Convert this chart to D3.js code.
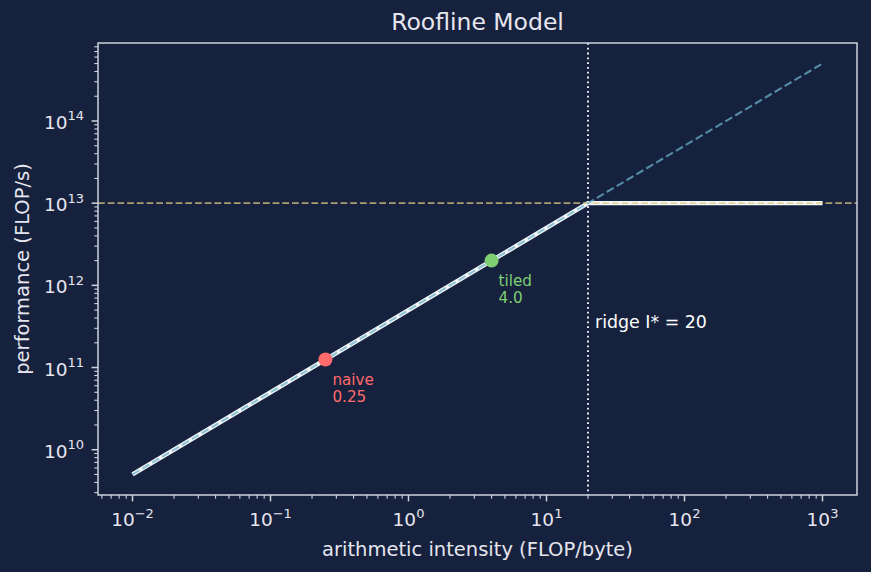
<!DOCTYPE html>
<html><head><meta charset="utf-8">
<script src="https://cdn.jsdelivr.net/npm/d3@7"></script>
<style>body{margin:0;background:#16213e;} svg{display:block;}</style>
</head><body><svg id="c" width="871" height="572"></svg>
<script>
// data
const intensityRange = [0.01, 1000];
const bandwidth = 5e11;          // bytes/s
const peak = 1e13;               // FLOP/s
const ridge = 20;
const kernels = ["naive", "tiled"];
const kernelIntensity = [0.25, 4.0];
const kernelLabels = ["0.25", "4.0"];
const kernelColors = ["#ff6b6b", "#7dcf72"];
const xTickExps = [-2, -1, 0, 1, 2, 3];
const yTickExps = [10, 11, 12, 13, 14];

const W = 871, H = 572;
const m = {l: 98, r: 857, t: 43, b: 495};
const svg = d3.select("#c");
const font = "DejaVu Sans, sans-serif";
const fg = "#e6e6ee", spine = "#cdd2dc";

svg.append("rect").attr("width", W).attr("height", H).attr("fill", "#16213e");

const x = d3.scaleLog().domain([Math.pow(10, -2.25), Math.pow(10, 3.25)]).range([m.l, m.r]);
const yLo = Math.log10(bandwidth * intensityRange[0]), yHi = Math.log10(bandwidth * intensityRange[1]);
const ypad = (yHi - yLo) * 0.05;
const y = d3.scaleLog().domain([Math.pow(10, yLo - ypad), Math.pow(10, yHi + ypad)]).range([m.b, m.t]);

const g = svg.append("g");
svg.append("clipPath").attr("id", "clip").append("rect")
  .attr("x", m.l).attr("y", m.t).attr("width", m.r - m.l).attr("height", m.b - m.t);
const plot = g.append("g").attr("clip-path", "url(#clip)");

// ridge vertical
plot.append("line").attr("x1", x(ridge)).attr("x2", x(ridge)).attr("y1", m.t).attr("y2", m.b)
  .attr("stroke", "#ffffff").attr("stroke-width", 1.8).attr("stroke-dasharray", "1.8,3");

// roofline
const pts = [intensityRange[0], ridge, intensityRange[1]];
const line = d3.line().x(d => x(d)).y(d => y(Math.min(bandwidth * d, peak)));
plot.append("path").datum(pts).attr("d", line).attr("fill", "none")
  .attr("stroke", "#f4f6f8").attr("stroke-width", 4.4).attr("stroke-linejoin", "round");

// compute ceiling
plot.append("line").attr("x1", m.l).attr("x2", m.r).attr("y1", y(peak)).attr("y2", y(peak))
  .attr("stroke", "#d8cc80").attr("stroke-opacity", 0.75).attr("stroke-width", 1.6)
  .attr("stroke-dasharray", "6.8,2.9");

// memory roof dashed
const memLine = d3.line().x(d => x(d)).y(d => y(bandwidth * d));
plot.append("path").datum(intensityRange).attr("d", memLine).attr("fill", "none")
  .attr("stroke", "#68b0c8").attr("stroke-opacity", 0.75).attr("stroke-width", 2.1)
  .attr("stroke-dasharray", "8,3.5");

// kernels
kernels.forEach((k, i) => {
  const I = kernelIntensity[i];
  const px = x(I), py = y(Math.min(bandwidth * I, peak));
  plot.append("circle").attr("cx", px).attr("cy", py).attr("r", 7).attr("fill", kernelColors[i]);
  const t = g.append("text").attr("x", px + 7).attr("y", py + 25)
    .attr("fill", kernelColors[i]).attr("font-family", font).attr("font-size", 15.2);
  t.append("tspan").attr("x", px + 7).text(k);
  t.append("tspan").attr("x", px + 7).attr("dy", 17.5).text(kernelLabels[i]);
});

// ridge label
g.append("text").attr("x", x(ridge) + 7).attr("y", y(3e11))
  .attr("fill", "#ffffff").attr("font-family", font).attr("font-size", 17.4)
  .text("ridge I* = 20");

// spines
g.append("rect").attr("x", m.l).attr("y", m.t).attr("width", m.r - m.l).attr("height", m.b - m.t)
  .attr("fill", "none").attr("stroke", spine).attr("stroke-width", 1.5);

// ticks
const ax = g.append("g");
function minorVals(lo, hi) {
  const out = [];
  for (let e = Math.floor(Math.log10(lo)); e <= Math.ceil(Math.log10(hi)); e++)
    for (let k = 1; k <= 9; k++) { const v = k * Math.pow(10, e); if (v >= lo && v <= hi) out.push({v, major: k === 1}); }
  return out;
}
const [xd0, xd1] = x.domain(), [yd0, yd1] = y.domain();
minorVals(xd0, xd1).forEach(d => {
  ax.append("line").attr("x1", x(d.v)).attr("x2", x(d.v)).attr("y1", m.b).attr("y2", m.b + (d.major ? 6.4 : 3.7))
    .attr("stroke", spine).attr("stroke-width", d.major ? 1.5 : 1.1);
});
minorVals(yd0, yd1).forEach(d => {
  ax.append("line").attr("y1", y(d.v)).attr("y2", y(d.v)).attr("x1", m.l).attr("x2", m.l - (d.major ? 6.4 : 3.7))
    .attr("stroke", spine).attr("stroke-width", d.major ? 1.5 : 1.1);
});
function supLabel(sel, e) {
  sel.append("tspan").text("10");
  sel.append("tspan").attr("dy", -8.5).attr("font-size", 13).text(e < 0 ? "\u2212" + (-e) : String(e));
}
xTickExps.forEach(e => {
  const t = ax.append("text").attr("x", x(Math.pow(10, e))).attr("y", m.b + 31)
    .attr("text-anchor", "middle").attr("fill", fg).attr("font-family", font).attr("font-size", 18.5);
  supLabel(t, e);
});
yTickExps.forEach(e => {
  const t = ax.append("text").attr("x", m.l - 14).attr("y", y(Math.pow(10, e)) + 8)
    .attr("text-anchor", "end").attr("fill", fg).attr("font-family", font).attr("font-size", 18.5);
  supLabel(t, e);
});

// labels
g.append("text").attr("x", (m.l + m.r) / 2).attr("y", 556).attr("text-anchor", "middle")
  .attr("fill", fg).attr("font-family", font).attr("font-size", 19.5).text("arithmetic intensity (FLOP/byte)");
g.append("text").attr("transform", `translate(29,${(m.t + m.b) / 2}) rotate(-90)`).attr("text-anchor", "middle")
  .attr("fill", fg).attr("font-family", font).attr("font-size", 19.5).text("performance (FLOP/s)");
g.append("text").attr("x", (m.l + m.r) / 2).attr("y", 30).attr("text-anchor", "middle")
  .attr("fill", fg).attr("font-family", font).attr("font-size", 23.5).text("Roofline Model");
</script></body></html>
